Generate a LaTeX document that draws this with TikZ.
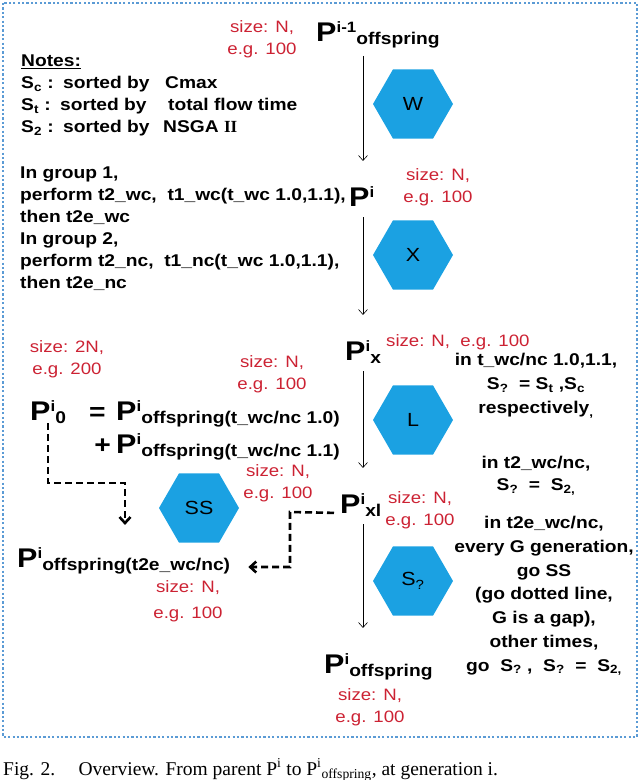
\documentclass[tikz,border=0pt]{standalone}
\usepackage{fontspec}
\setmainfont{Liberation Sans}[FakeStretch=1.13]
\newfontfamily\capfont{Liberation Serif}
\usetikzlibrary{arrows.meta, positioning, shapes.geometric}
\definecolor{hexblue}{HTML}{1BA1E2}
\definecolor{sizered}{HTML}{CC2233}
\definecolor{framebl}{HTML}{5B9BD5}
\newcommand{\Pop}[2]{{\fontsize{27}{27}\selectfont P}\raisebox{9pt}{\fontsize{15}{15}\selectfont #1}\raisebox{-3pt}{#2}}

\begin{document}
\begin{tikzpicture}[x=1pt, y=-1pt,
      txt/.style={font=\fontsize{17}{22}\selectfont\bfseries, inner sep=0pt, align=left},
      note/.style={txt, align=center},
      redlbl/.style={font=\fontsize{16.5}{22}\selectfont, text=sizered, align=center, inner sep=0pt},
      pop/.style={font=\fontsize{17}{22}\selectfont\bfseries, inner sep=0pt, anchor=base west},
      hexa/.style={regular polygon, regular polygon sides=6, fill=hexblue, minimum size=80pt,
                   inner sep=0pt, font=\fontsize{19}{19}\selectfont},
      arr/.style={-{Straight Barb[length=5pt, width=9pt]}, semithick, shorten <=8pt, shorten >=25pt},
      dasharr/.style={-{Straight Barb[length=6pt, width=11pt]}, line width=2.6pt, dash pattern=on 7pt off 4pt},
      dotframe/.style={framebl, line width=2.2pt, dash pattern=on 2.2pt off 2.2pt}
    ]
      \useasboundingbox (0,0) rectangle (640,780);
      \draw[dotframe] (3,3) rectangle (637,737);
      \coordinate (spine) at (363,0);
      \node[pop] (pim1) at (316,41) {\Pop{i-1}{offspring}};
      \node[pop] (pi) at (349,206) {\Pop{i}{}};
      \node[pop] (px) at (345,360) {\Pop{i}{x}};
      \node[pop] (pxl) at (340,513) {\Pop{i}{xl}};
      \node[pop] (poff) at (324,673) {\Pop{i}{offspring}};
      \node[pop] (pzero) at (30,420) {\Pop{i}{0}};
      \node[pop, anchor=base east] (psum) at (340,420) {{\fontsize{25}{25}\selectfont =}~ \Pop{i}{offspring(t\_wc/nc 1.0)}};
      \node[pop, anchor=base east] (psumb) at (340,453) {{\fontsize{25}{25}\selectfont +} \Pop{i}{offspring(t\_wc/nc 1.1)}};
      \node[pop] (pnext) at (17,567) {\Pop{i}{offspring(t2e\_wc/nc)}};
      \node[hexa] (W) at (413,104) {W};
      \node[hexa] (X) at (413,255) {X};
      \node[hexa] (L) at (413,420) {L};
      \node[hexa] (Sq) at (413,581) {S\textsubscript{?}};
      \node[hexa] (SS) at (199,508) {SS};
      \node[redlbl] (szA) at (262,39) {size: N,\\e.g. 100};
      \node[redlbl] (szB) at (438,187) {size: N,\\e.g. 100};
      \node[redlbl, anchor=west] (szC) at (386,342) {size: N,~ e.g. 100};
      \node[redlbl] (szD) at (67,359) {size: 2N,\\e.g. 200};
      \node[redlbl] (szE) at (272,374) {size: N,\\e.g. 100};
      \node[redlbl] (szF) at (278,483) {size: N,\\e.g. 100};
      \node[redlbl] (szG) at (420,510) {size: N,\\e.g. 100};
      \node[redlbl] (szH) at (188,601) {size: N,\\[4pt]e.g. 100};
      \node[redlbl] (szI) at (370,707) {size: N,\\e.g. 100};
      \node[txt, anchor=north west] (notes) at (21,55) {\underline{Notes:}\\
        \makebox[42pt][l]{S\textsubscript{c} :}\makebox[102pt][l]{sorted by}Cmax\\
        \makebox[39pt][l]{S\textsubscript{t} :}\makebox[108pt][l]{sorted by}total flow time\\
        \makebox[42pt][l]{S\textsubscript{2} :}\makebox[100pt][l]{sorted by}NSGA {\capfont\bfseries II}};
      \node[txt, anchor=north west] (groups) at (20,167) {In group 1,\\
        perform t2\_wc,~ t1\_wc(t\_wc 1.0,1.1),\\
        then t2e\_wc\\
        In group 2,\\
        perform t2\_nc,~ t1\_nc(t\_wc 1.0,1.1),\\
        then t2e\_nc};
      \node[note, font=\fontsize{17}{24}\selectfont\bfseries] (tA) at (536,386) {in t\_wc/nc 1.0,1.1,\\
        S\textsubscript{?}~ = S\textsubscript{t} ,S\textsubscript{c}\\
        respectively\textsubscript{,}};
      \node[note] (tB) at (536,476) {in t2\_wc/nc,\\ S\textsubscript{?}~ =~ S\textsubscript{2,}};
      \node[note, font=\fontsize{17}{23.8}\selectfont\bfseries] (tC) at (544,596) {in t2e\_wc/nc,\\
        every G generation,\\
        go SS\\
        (go dotted line,\\
        G is a gap),\\
        other times,\\
        go~ S\textsubscript{?} ,~ S\textsubscript{?}~ =~ S\textsubscript{2,}};
      \node[anchor=base west, inner sep=0pt, font=\capfont\fontsize{19.5}{19.5}\selectfont] (cap) at (3,775)
        {Fig. 2.\hspace{1.2em}Overview. From parent P\textsuperscript{i} to P\textsuperscript{i}\textsubscript{offspring}, at generation i.};
      \draw[arr] (pim1.south -| spine) -- (pi.north -| spine);
      \draw[arr] (pi.south -| spine) -- (px.north -| spine);
      \draw[arr] (px.south -| spine) -- (pxl.north -| spine);
      \draw[arr] (pxl.south -| spine) -- (poff.north -| spine);
      \coordinate (bendL) at (125,483);
      \coordinate (bendR) at (290,512);
      \draw[dasharr, shorten >=22pt] (pzero.south) |- (bendL) -- (pnext.north -| bendL);
      \draw[dasharr, shorten <=6pt, shorten >=18pt] (pxl.base west) -- (bendR) |- (pnext.base east);
    \end{tikzpicture}
\end{document}
